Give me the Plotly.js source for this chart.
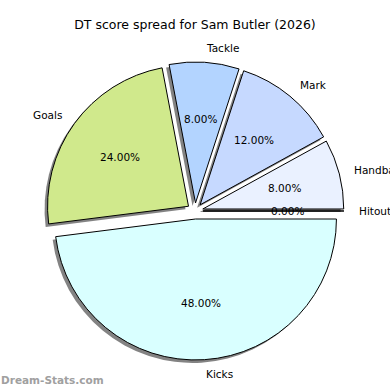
<!DOCTYPE html>
<html><head><meta charset="utf-8">
<script src="https://cdn.plot.ly/plotly-3.0.1.min.js"></script>
<style>html,body{margin:0;padding:0;background:#fff}#chart{width:390px;height:390px}</style>
</head><body><div id="chart"></div>
<script>
const labels = ["Hitout", "Handball", "Mark", "Tackle", "Goals", "Kicks"];
const values = [0, 8, 12, 8, 24, 48];
const colors = ["#f4f8ff", "#eaf1ff", "#c6d9ff", "#b3d4ff", "#d0e98c", "#d9ffff"];
const titleText = "DT score spread for Sam Butler (2026)";
const watermark = "Dream-Stats.com";

const W = 390, H = 390;
const pull = 0.057;
const dom = {x: [0.118, 0.882], y: [0.077, 0.841]};
// pie geometry in pixels (as Plotly lays it out)
const cxPx = (dom.x[0] + dom.x[1]) / 2 * W;
const cyPx = H - (dom.y[0] + dom.y[1]) / 2 * H;
const rPx = Math.min((dom.x[1] - dom.x[0]) * W, (dom.y[1] - dom.y[0]) * H) / (2 * (1 + pull));

const sh = 3 / 390;
const common = {
  type: "pie", labels: labels, values: values, sort: false,
  direction: "counterclockwise", rotation: 90, pull: pull,
  showlegend: false, hoverinfo: "skip", textinfo: "none"
};
const shadow = Object.assign({}, common, {
  domain: {x: [dom.x[0] - sh, dom.x[1] - sh], y: [dom.y[0] - sh, dom.y[1] - sh]},
  marker: {colors: labels.map(() => "rgba(90,90,90,0.75)"), line: {width: 0}}
});
const main = Object.assign({}, common, {
  domain: dom,
  marker: {colors: colors, line: {color: "#000", width: 1}}
});

// label positions in units of pie radius (matplotlib style: labels at 1.1, pct at 0.6)
const fnt = {family: "DejaVu Sans", size: 10.5, color: "#000"};
const total = values.reduce((a, b) => a + b, 0);
const annos = [];
let acc = 0;
values.forEach((v, i) => {
  const mid = (acc + v / 2) / total * 2 * Math.PI;
  acc += v;
  const ox = pull * Math.cos(mid), oy = pull * Math.sin(mid);
  const x1 = ox + 1.1 * Math.cos(mid), y1 = oy + 1.1 * Math.sin(mid);
  annos.push({text: labels[i], x: x1, y: y1, xref: "x", yref: "y", showarrow: false,
    xanchor: x1 >= 0 ? "left" : "right", yanchor: "middle", borderpad: 0, font: fnt});
  annos.push({text: (v / total * 100).toFixed(2) + "%", x: ox + 0.6 * Math.cos(mid), y: oy + 0.6 * Math.sin(mid),
    xref: "x", yref: "y", showarrow: false, xanchor: "center", yanchor: "middle", borderpad: 0, font: fnt});
});
annos.push({text: watermark, xref: "paper", yref: "paper", x: 0, y: 10/390, xanchor: "left", yanchor: "middle",
  showarrow: false, borderpad: 0, font: {family: "DejaVu Sans", size: 10.5, color: "#a0a0a0", weight: "bold"}});

const ax = {visible: false, showgrid: false, zeroline: false, fixedrange: true};
Plotly.newPlot("chart", [shadow, main], {
  width: W, height: H,
  margin: {l: 0, r: 0, t: 0, b: 0},
  paper_bgcolor: "#fff", plot_bgcolor: "rgba(0,0,0,0)",
  xaxis: Object.assign({range: [(0 - cxPx) / rPx, (W - cxPx) / rPx]}, ax),
  yaxis: Object.assign({range: [(cyPx - H) / rPx, cyPx / rPx]}, ax),
  title: {text: titleText, x: 0.5, xanchor: "center", y: 1 - 25/390, yanchor: "middle", yref: "container",
          font: {family: "DejaVu Sans", size: 12.5, color: "#000"}},
  annotations: annos
}, {staticPlot: true, displayModeBar: false});
</script></body></html>
